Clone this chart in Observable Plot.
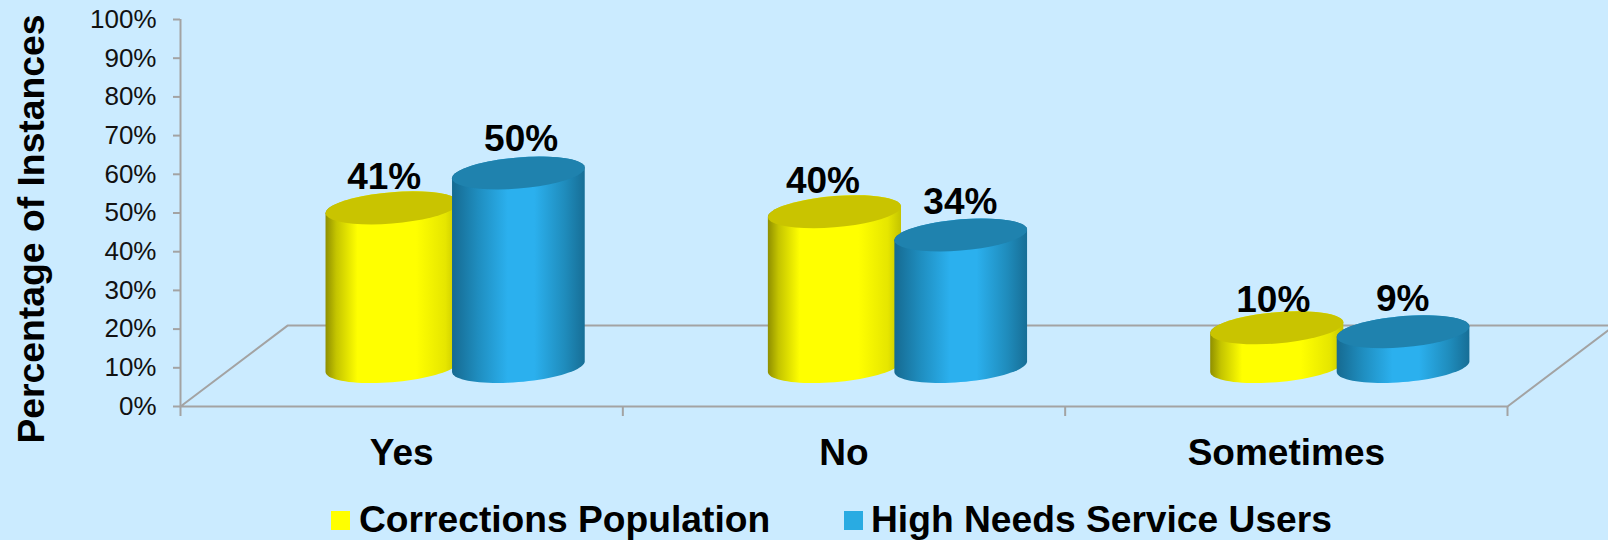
<!DOCTYPE html>
<html>
<head>
<meta charset="utf-8">
<script src="https://cdn.jsdelivr.net/npm/d3@7"></script>
<script src="https://cdn.jsdelivr.net/npm/@observablehq/plot@0.6"></script>
<style>
  html, body { margin: 0; padding: 0; background: #cbebff; overflow: hidden; }
  #page { position: relative; width: 1608px; height: 540px; overflow: hidden; background: #cbebff; font-family: "Liberation Sans", Arial, sans-serif; }
  #page svg { display: block; background: transparent; }
  .legend-swatch { position: absolute; top: 511px; width: 19px; height: 19px; }
  .legend-label { position: absolute; top: 499px; font-weight: bold; font-size: 37.2px; line-height: 41px; color: #000; white-space: nowrap; }
</style>
</head>
<body>
<div id="page"></div>
<script>
// Survey responses, in percent of instances
const categories = ["Yes", "No", "Sometimes"];
const corrections = [41, 40, 10];
const highNeeds = [50, 34, 9];
const seriesNames = ["Corrections Population", "High Needs Service Users"];
const seriesColors = ["#ffff00", "#29abe2"];
const yTicks = [0, 10, 20, 30, 40, 50, 60, 70, 80, 90, 100];

// Perspective floor: depth in category widths and percent
const floorDepthX = 0.242;
const floorDepthY = 20.9;
const baseLift = 10.2;

// Horizontal span of each cylinder inside its category
const seriesSpan = [[0.329, 0.63], [0.615, 0.915]];

// Fine placement of the value labels: percent above the cap, category widths sideways
const labelRaise = [[5.0, 5.7], [4.9, 5.6], [4.3, 5.5]];
const labelShift = [[-0.019, 0.005], [-0.027, -0.002], [-0.009, -0.002]];

const rows = categories.flatMap((category, i) => [corrections, highNeeds].map((values, s) => ({
  category,
  series: s,
  value: values[i],
  x1: i + seriesSpan[s][0],
  x2: i + seriesSpan[s][1],
  labelX: i + (seriesSpan[s][0] + seriesSpan[s][1]) / 2 + labelShift[i][s],
  labelY: baseLift + values[i] + labelRaise[i][s]
})));

const floor = [
  [0, 0], [floorDepthX, floorDepthY], [3 + floorDepthX, floorDepthY], [3, 0], [0, 0]
].map(([x, y]) => ({x, y}));

const gradients = [
  {id: "cyl-yellow", cap: "#c9c400", stops: [[0, "#8f8f00"], [0.08, "#c4c400"], [0.24, "#ffff00"], [0.68, "#ffff00"], [0.9, "#e6e600"], [1, "#c4c400"]]},
  {id: "cyl-blue", cap: "#1f82ae", stops: [[0, "#166a91"], [0.2, "#1f8ec0"], [0.42, "#2bb0ee"], [0.62, "#2bb0ee"], [0.85, "#1f8cbc"], [1, "#176e96"]]}
];

// Draws each rect as a cylinder: a shaded body with a sheared elliptical cap
function cylinders(index, scales, values) {
  const g = d3.create("svg:g");
  const defs = g.append("defs");
  for (const grad of gradients) {
    const lg = defs.append("linearGradient").attr("id", grad.id);
    for (const [offset, color] of grad.stops) lg.append("stop").attr("offset", offset).attr("stop-color", color);
  }
  const rim = (cx, cy, a, from, to) => d3.range(0, 41).map(k => {
    const t = from + (to - from) * k / 40;
    return [cx + a * Math.cos(t), cy - a * 0.08 * Math.cos(t) + a * 0.235 * Math.sin(t)];
  });
  const path = pts => "M" + pts.map(p => p[0].toFixed(2) + "," + p[1].toFixed(2)).join("L") + "Z";
  for (const i of index) {
    const a = (values.x2[i] - values.x1[i]) / 2;
    const cx = values.x1[i] + a;
    const base = values.y1[i];
    const top = values.y2[i];
    const grad = gradients[rows[i].series];
    // lower rim runs right to left, then back along the cap's upper rim
    const body = [...rim(cx, base, a, 0, Math.PI), ...rim(cx, top, a, Math.PI, 2 * Math.PI)];
    g.append("path").attr("d", path(body)).attr("fill", `url(#${grad.id})`);
    g.append("path").attr("d", path(rim(cx, top, a, 0, 2 * Math.PI))).attr("fill", grad.cap);
  }
  return g.node();
}

const axisGray = "#a3a3a3";

const chart = Plot.plot({
  width: 1608,
  height: 500,
  marginLeft: 180,
  marginRight: 101,
  marginTop: 19,
  marginBottom: 94,
  style: {background: "transparent", fontFamily: "'Liberation Sans', Arial, sans-serif", overflow: "hidden"},
  x: {type: "linear", domain: [0, 3]},
  y: {type: "linear", domain: [0, 100]},
  marks: [
    Plot.line(floor, {x: "x", y: "y", stroke: axisGray, strokeWidth: 2}),
    Plot.ruleX([0], {y1: 0, y2: 100, stroke: axisGray, strokeWidth: 2}),
    Plot.axisY({
      ticks: yTicks,
      tickFormat: d => d + "%",
      tickSize: 7,
      tickPadding: 17,
      stroke: axisGray,
      strokeWidth: 2,
      fontSize: 26,
      fill: "#111",
      label: null
    }),
    Plot.axisX({
      ticks: [0, 1, 2, 3],
      tickFormat: () => "",
      tickSize: 10,
      stroke: axisGray,
      strokeWidth: 2,
      label: null
    }),
    Plot.axisX({
      ticks: [0.5, 1.5, 2.5],
      tickFormat: d => categories[Math.floor(d)],
      tickSize: 0,
      tickPadding: 32,
      fontSize: 37,
      fontWeight: "bold",
      fill: "#000",
      lineAnchor: "top",
      label: null
    }),
    Plot.rect(rows, {
      x1: "x1",
      x2: "x2",
      y1: () => baseLift,
      y2: d => baseLift + d.value,
      render: cylinders
    }),
    Plot.text(rows, {
      x: "labelX",
      y: "labelY",
      text: d => d.value + "%",
      fontSize: 37,
      fontWeight: "bold",
      fill: "#000",
      lineAnchor: "bottom"
    }),
    Plot.text(["Percentage of Instances"], {
      frameAnchor: "left",
      dx: -148,
      dy: 16,
      rotate: -90,
      text: d => d,
      textAnchor: "middle",
      lineAnchor: "middle",
      fontSize: 37.3,
      fontWeight: "bold",
      fill: "#000"
    })
  ]
});

const page = document.getElementById("page");
page.appendChild(chart);

// Legend, set beneath the plot
const legendLayout = [{swatch: 330.5, label: 359}, {swatch: 844, label: 871}];
seriesNames.forEach((name, i) => {
  const swatch = document.createElement("div");
  swatch.className = "legend-swatch";
  swatch.style.left = legendLayout[i].swatch + "px";
  swatch.style.background = seriesColors[i];
  page.appendChild(swatch);
  const label = document.createElement("div");
  label.className = "legend-label";
  label.style.left = legendLayout[i].label + "px";
  label.textContent = name;
  page.appendChild(label);
});
</script>
</body>
</html>
